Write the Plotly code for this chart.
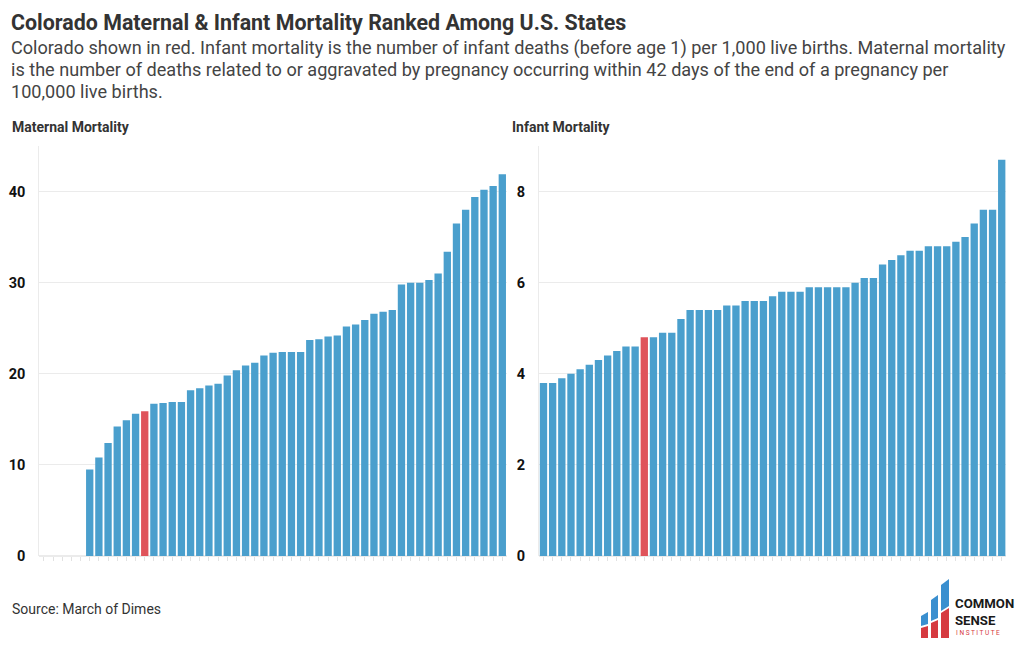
import plotly.graph_objects as go

# ---------------- data ----------------
ranks = list(range(1, 52))  # 50 states + DC, sorted low -> high
maternal = [None, None, None, None, None,
            9.5, 10.8, 12.4, 14.2, 14.9, 15.6, 15.9, 16.7, 16.8, 16.9, 16.9,
            18.2, 18.4, 18.7, 18.9, 19.8, 20.4, 20.9, 21.2, 22.0, 22.3, 22.4,
            22.4, 22.4, 23.7, 23.8, 24.1, 24.2, 25.2, 25.4, 25.9, 26.6, 26.8,
            27.0, 29.8, 30.0, 30.0, 30.3, 31.0, 33.4, 36.5, 38.0, 39.4, 40.2,
            40.6, 41.9]
infant = [3.8, 3.8, 3.9, 4.0, 4.1, 4.2, 4.3, 4.4, 4.5, 4.6, 4.6, 4.8, 4.8,
          4.9, 4.9, 5.2, 5.4, 5.4, 5.4, 5.4, 5.5, 5.5, 5.6, 5.6, 5.6, 5.7,
          5.8, 5.8, 5.8, 5.9, 5.9, 5.9, 5.9, 5.9, 6.0, 6.1, 6.1, 6.4, 6.5,
          6.6, 6.7, 6.7, 6.8, 6.8, 6.8, 6.9, 7.0, 7.3, 7.6, 7.6, 8.7]
colorado_rank_maternal = 12
colorado_rank_infant = 12
maternal_ticks = [0, 10, 20, 30, 40]
infant_ticks = [0, 2, 4, 6, 8]

TITLE = "Colorado Maternal & Infant Mortality Ranked Among U.S. States"
SUBTITLE_LINES = [
    "Colorado shown in red. Infant mortality is the number of infant deaths (before age 1) per 1,000 live births. Maternal mortality",
    "is the number of deaths related to or aggravated by pregnancy occurring within 42 days of the end of a pregnancy per",
    "100,000 live births.",
]
SOURCE = "Source: March of Dimes"

BLUE = "#4a9fcd"
RED = "#df535a"
GRID = "#ebebeb"

def colors(rank_hi):
    return [RED if r == rank_hi else BLUE for r in ranks]

fig = go.Figure()
fig.add_trace(go.Bar(x=ranks, y=maternal, marker=dict(color=colors(colorado_rank_maternal), line=dict(width=0)),
                     xaxis="x", yaxis="y", hovertemplate="%{y}<extra></extra>"))
fig.add_trace(go.Bar(x=ranks, y=infant, marker=dict(color=colors(colorado_rank_infant), line=dict(width=0)),
                     xaxis="x2", yaxis="y2", hovertemplate="%{y}<extra></extra>"))

W, H = 1020, 650
def px(x):
    return x / W
def py(y):
    return (H - y) / H

xcommon = dict(range=[0.5, 51.5], tickmode="array", tickvals=ranks, showticklabels=False,
               ticks="outside", ticklen=4, tickcolor="#e2e2e2", tickwidth=1, automargin=False,
               showgrid=False, zeroline=False, showline=False, fixedrange=True)
ycommon = dict(showgrid=True, gridcolor=GRID, gridwidth=1, zeroline=True, zerolinecolor=GRID,
               showline=True, linecolor=GRID, linewidth=1, ticks="", automargin=False,
               tickfont=dict(family="Roboto", size=14.5, color="#111111", weight="bold"),
               ticklabelstandoff=10, fixedrange=True)

fig.update_layout(
    width=W, height=H,
    margin=dict(l=0, r=0, t=0, b=0, pad=0, autoexpand=False),
    paper_bgcolor="white", plot_bgcolor="white",
    showlegend=False, bargap=0.2,
    font=dict(family="Roboto", color="#333333"),
    xaxis=dict(domain=[px(39.3), px(506.9)], anchor="y", **xcommon),
    xaxis2=dict(domain=[px(538.9), px(1006.3)], anchor="y2", **xcommon),
    yaxis=dict(domain=[py(556), py(146)], range=[0, 45], tickvals=maternal_ticks, anchor="x", **ycommon),
    yaxis2=dict(domain=[py(556), py(146)], range=[0, 9], tickvals=infant_ticks, anchor="x2", **ycommon),
)

def text_ann(text, x, y, size, color="#333333", family="Roboto", xanchor="left"):
    return dict(text=text, x=px(x), y=py(y), xref="paper", yref="paper", xanchor=xanchor,
                yanchor="middle", showarrow=False, font=dict(family=family, size=size, color=color))

ann = []
ann.append(text_ann("<b>" + TITLE + "</b>", 9, 22, 21.4))
for i, line in enumerate(SUBTITLE_LINES):
    ann.append(text_ann(line, 9, 48 + 22 * i, 18.1, color="#444444"))
ann.append(text_ann("<b>Maternal Mortality</b>", 10, 127, 14))
ann.append(text_ann("<b>Infant Mortality</b>", 510, 127, 14))
ann.append(text_ann(SOURCE, 10, 609, 14))
# logo text
ann.append(text_ann("<b>COMMON</b>", 953, 603, 13.2, color="#1a1a1a"))
ann.append(text_ann("<b>SENSE</b>", 953, 620, 13.2, color="#1a1a1a"))
ann.append(text_ann("I N S T I T U T E", 954, 633, 6.5, color="#d63a40"))
fig.update_layout(annotations=ann)

# logo icon (decorative shapes in pixel-derived paper coords)
def path(pts):
    return "M " + " L ".join(f"{px(x):.5f},{py(y):.5f}" for x, y in pts) + " Z"

LB = "#3a8fcf"
LR = "#d63a40"
shapes = [
    dict(type="path", path=path([(921, 616), (928, 612), (928, 624), (921, 626)]), fillcolor=LB),
    dict(type="path", path=path([(931, 600), (938, 595), (938, 618), (931, 621)]), fillcolor=LB),
    dict(type="path", path=path([(941, 585), (949, 579), (949, 606), (941, 611)]), fillcolor=LB),
    dict(type="path", path=path([(921, 628), (928, 626), (928, 638), (921, 638)]), fillcolor=LR),
    dict(type="path", path=path([(931, 623), (938, 620), (938, 638), (931, 638)]), fillcolor=LR),
    dict(type="path", path=path([(941, 613), (949, 608), (949, 638), (941, 638)]), fillcolor=LR),
]
for s in shapes:
    s.update(xref="paper", yref="paper", line=dict(width=0), layer="above")
fig.update_layout(shapes=shapes)

fig.write_html("out.html")
